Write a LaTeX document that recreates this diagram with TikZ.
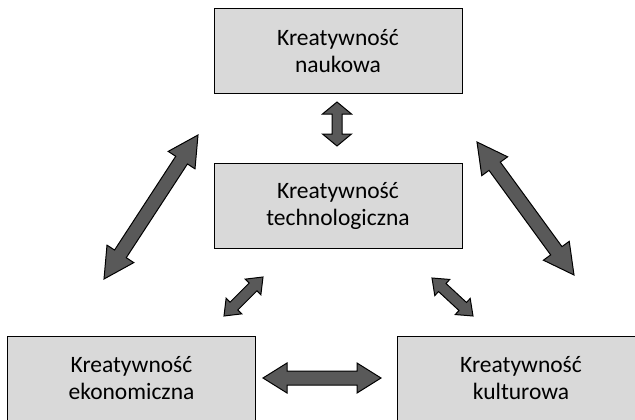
\documentclass[tikz,border=0pt]{standalone}
\usepackage{fontspec}
\setmainfont{Carlito}
\usetikzlibrary{calc}
\definecolor{boxgray}{HTML}{D9D9D9}
\definecolor{arrgray}{HTML}{595959}
\tikzset{
  kbox/.style={draw=black, line width=1pt, fill=boxgray, minimum width=248pt, minimum height=85pt,
    inner sep=0pt, align=center, font=\fontsize{23.5}{27}\selectfont},
  blockarrow/.style={draw=black, line width=1pt, fill=arrgray, line join=miter}
}
\newcommand{\dblarr}[5]{%
  \coordinate (h1) at ($(#1)!#5!(#2)$);
  \coordinate (h2) at ($(#2)!#5!(#1)$);
  \draw[blockarrow] (#1) -- ($(h1)!#4!90:(#2)$) -- ($(h1)!#3!90:(#2)$) -- ($(h2)!#3!-90:(#1)$)
    -- ($(h2)!#4!-90:(#1)$) -- (#2) -- ($(h2)!#4!90:(#1)$) -- ($(h2)!#3!90:(#1)$)
    -- ($(h1)!#3!-90:(#2)$) -- ($(h1)!#4!-90:(#2)$) -- cycle;}
\begin{document}
\begin{tikzpicture}[x=1pt,y=-1pt]
\useasboundingbox (0,0) rectangle (635,420);
\clip (0,0) rectangle (635,420);
\node[kbox] (nauk) at (338,51.5) {Kreatywność\\naukowa};
\node[kbox] (tech) at (338,205.5) {Kreatywność\\technologiczna};
\node[kbox] (ekon) at (131.5,378.5) {Kreatywność\\ekonomiczna};
\node[kbox] (kult) at (521,378.5) {Kreatywność\\kulturowa};
% arrow end points
\coordinate (nt1) at (337,102);
\coordinate (nt2) at (337,146);
\coordinate (ek1) at (263,378);
\coordinate (ek2) at (381,378);
\coordinate (ne1) at (104,279);
\coordinate (ne2) at (198,135);
\coordinate (nk1) at (477,142);
\coordinate (nk2) at (574,275);
\coordinate (te1) at (224,316);
\coordinate (te2) at (263,277);
\coordinate (tk1) at (432,278);
\coordinate (tk2) at (473,316);
\dblarr{nt1}{nt2}{5pt}{14.5pt}{12pt}
\dblarr{ek1}{ek2}{7pt}{15pt}{24pt}
\dblarr{ne1}{ne2}{7pt}{16pt}{30pt}
\dblarr{nk1}{nk2}{7pt}{16pt}{30pt}
\dblarr{te1}{te2}{5.5pt}{11pt}{14pt}
\dblarr{tk1}{tk2}{5.5pt}{11pt}{14pt}
\end{tikzpicture}
\end{document}
